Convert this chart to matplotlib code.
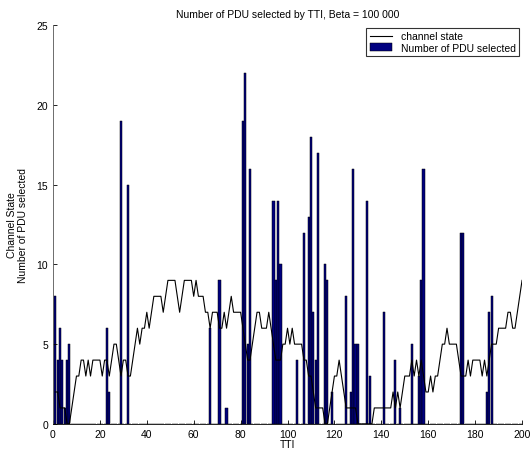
import matplotlib
matplotlib.use('Agg')
import matplotlib.pyplot as plt
import numpy as np

plt.rcParams['font.family'] = ['Liberation Sans', 'DejaVu Sans']

# channel state per TTI (1..200)
channel_state = [2, 2, 1, 1, 1, 0, 0, 1, 2, 3,
                 3, 4, 4, 3, 4, 3, 4, 4, 4, 4,
                 3, 4, 4, 3, 4, 5, 5, 4, 3, 4,
                 4, 3, 3, 4, 5, 6, 5, 6, 6, 7,
                 6, 7, 8, 8, 8, 8, 7, 8, 9, 9,
                 9, 9, 8, 7, 8, 9, 9, 9, 9, 8,
                 9, 8, 8, 8, 7, 7, 6, 7, 7, 7,
                 6, 6, 7, 6, 7, 8, 7, 7, 7, 7,
                 6, 5, 4, 4, 5, 6, 7, 7, 6, 6,
                 6, 7, 6, 5, 4, 4, 4, 5, 5, 6,
                 5, 6, 5, 5, 5, 5, 4, 4, 3, 3,
                 2, 1, 1, 1, 1, 0, 0, 1, 2, 3,
                 3, 4, 3, 2, 1, 1, 1, 1, 1, 0,
                 0, 0, 0, 0, 0, 0, 1, 1, 1, 1,
                 1, 1, 1, 1, 2, 1, 2, 1, 2, 3,
                 3, 3, 4, 3, 4, 3, 4, 3, 2, 2,
                 3, 2, 3, 3, 4, 5, 5, 6, 5, 5,
                 5, 5, 4, 3, 3, 3, 4, 3, 4, 4,
                 4, 4, 3, 4, 3, 4, 5, 5, 5, 6,
                 6, 6, 6, 7, 7, 6, 6, 7, 8, 9]

# TTIs where PDUs were selected, and how many
pdu_tti = [1, 2, 3, 4, 5, 6, 7, 23, 24, 29, 32, 67, 71, 74,
           81, 82, 83, 84, 94, 95, 96, 97, 104, 107, 109, 110, 111, 112, 113,
           116, 117, 119, 125, 127, 128, 129, 130, 134, 135, 141, 146, 148,
           153, 156, 157, 158, 174, 175, 185, 186, 187]
pdu_count = [8, 4, 6, 4, 1, 4, 5, 6, 2, 19, 15, 6, 9, 1,
             19, 22, 5, 16, 14, 9, 14, 10, 4, 12, 13, 18, 7, 4, 17,
             10, 9, 2, 8, 2, 16, 5, 5, 14, 3, 7, 4, 1,
             5, 3, 9, 16, 12, 12, 2, 7, 8]

tti = np.arange(1, len(channel_state) + 1)
pdu = np.zeros(len(tti))
pdu[np.array(pdu_tti) - 1] = pdu_count

fig = plt.figure(figsize=(5.3, 4.52), dpi=100)
ax = fig.add_axes([0.1, 0.06, 0.885, 0.882])

ax.plot(tti, channel_state, color='k', lw=0.8, label='channel state')
ax.bar(tti, pdu, width=0.9, color='#000080', edgecolor='k', lw=0.35,
       label='Number of PDU selected')

ax.set_xlim(0, 200)
ax.set_ylim(0, 25)
ax.set_xticks(range(0, 201, 20))
ax.set_yticks(range(0, 26, 5))
ax.tick_params(direction='in', length=3, labelsize=7.5, width=0.6)
for s in ['top', 'right']:
    ax.spines[s].set_visible(False)
for s in ['left', 'bottom']:
    ax.spines[s].set_linewidth(0.6)
ax.spines['left'].set_color('#555555')

ax.set_title('Number of PDU selected by TTI, Beta = 100 000', fontsize=7.5, pad=6)
ax.set_xlabel('TTI', fontsize=7.5, labelpad=0)
ax.set_ylabel('Channel State\nNumber of PDU selected', fontsize=7.5, labelpad=6)

leg = ax.legend(loc='upper right', fontsize=7.5, frameon=True, fancybox=False,
                borderpad=0.3, handlelength=2.2, labelspacing=0.1,
                borderaxespad=0.3)
leg.get_frame().set_edgecolor('k')
leg.get_frame().set_linewidth(0.8)

fig.savefig('out.png', dpi=100)
